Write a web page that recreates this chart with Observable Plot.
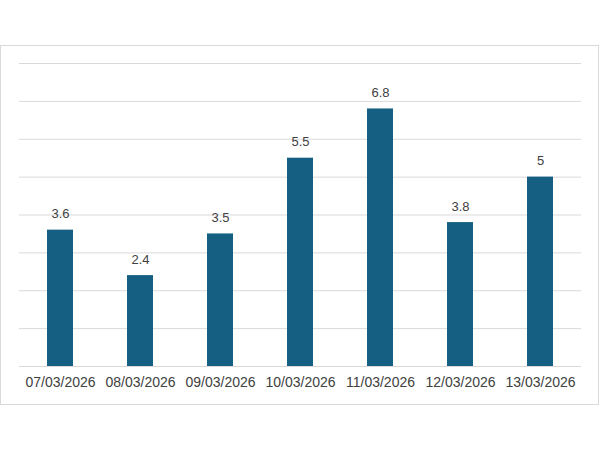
<!DOCTYPE html>
<html>
<head>
<meta charset="utf-8">
<script src="https://cdn.jsdelivr.net/npm/d3@7"></script>
<script src="https://cdn.jsdelivr.net/npm/@observablehq/plot@0.6"></script>
<style>
  html, body { margin: 0; padding: 0; background: #fff; }
  #box { position: absolute; left: 0; top: 45px; width: 597px; height: 358px; border: 1px solid #d9d9d9; background: #fff; }
</style>
</head>
<body>
<div id="box"></div>
<script>
const dates = ["07/03/2026", "08/03/2026", "09/03/2026", "10/03/2026", "11/03/2026", "12/03/2026", "13/03/2026"];
const values = [3.6, 2.4, 3.5, 5.5, 6.8, 3.8, 5];
const yTicks = [0, 1, 2, 3, 4, 5, 6, 7, 8];

const data = dates.map((d, i) => ({date: d, value: values[i]}));

const chart = Plot.plot({
  width: 597,
  height: 358,
  marginLeft: 18,
  marginRight: 17,
  marginTop: 17,
  marginBottom: 38,
  style: {fontFamily: "Liberation Sans, Arial, sans-serif", fontSize: "13px", color: "#404040", background: "#fff"},
  x: {domain: dates, paddingInner: 0.676, paddingOuter: 0.338, label: null},
  y: {domain: [0, 8], label: null},
  marks: [
    Plot.gridY(yTicks, {stroke: "#d9d9d9", strokeOpacity: 1, strokeWidth: 1}),
    Plot.barY(data, {x: "date", y: "value", fill: "#156082"}),
    Plot.text(data, {x: "date", y: "value", text: d => String(d.value), dy: -16, fill: "#404040", fontSize: 13}),
    Plot.axisX({tickSize: 0, tickPadding: 11, fontSize: 14, fill: "#404040"}),
    Plot.axisY({ticks: [], label: null})
  ]
});
document.getElementById("box").appendChild(chart);
</script>
</body>
</html>
